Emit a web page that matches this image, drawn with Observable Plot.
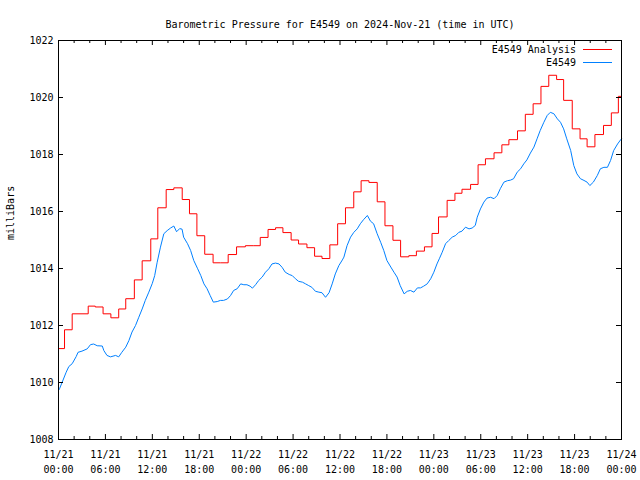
<!DOCTYPE html>
<html><head><meta charset="utf-8">
<script src="https://cdn.jsdelivr.net/npm/d3@7"></script>
<script src="https://cdn.jsdelivr.net/npm/@observablehq/plot@0.6"></script>
<style>body{margin:0;background:#fff}</style>
</head><body><div id="chart"></div>
<script>
const titleText = "Barometric Pressure for E4549 on 2024-Nov-21 (time in UTC)";
const yAxisLabel = "milliBars";
const seriesNames = ["E4549 Analysis", "E4549"];
const seriesColors = ["#ff0000", "#0080ff"];
const startUTC = Date.UTC(2024, 10, 21);

// Analysis (hourly step values); hours since 11/21 00:00 when each level starts
const analysisHours = [0, 0.77, 1.75, 2.75, 3.8, 4.7, 5.7, 6.7, 7.7, 8.6,
  9.7, 10.7, 11.8, 12.7, 13.77, 14.75, 15.82, 16.75, 17.7, 18.7,
  19.77, 20.7, 21.7, 22.77, 23.9, 24.9, 25.8, 26.8, 27.76, 28.7,
  29.75, 30.7, 31.77, 32.75, 33.7, 34.7, 35.7, 36.7, 37.76, 38.7,
  39.7, 40.76, 41.75, 42.77, 43.75, 44.8, 45.77, 46.8, 47.77, 48.6,
  49.7, 50.7, 51.6, 52.7, 53.66, 54.6, 55.7, 56.7, 57.6, 58.7,
  59.7, 60.7, 61.7, 62.7, 63.7, 64.6, 65.7, 66.7, 67.6, 68.6,
  69.7, 70.7, 71.6, 72];
const analysisValues = [1011.19, 1011.85, 1012.41, 1012.41, 1012.68, 1012.65, 1012.41, 1012.27, 1012.58, 1012.94,
  1013.6, 1014.27, 1015.04, 1016.13, 1016.77, 1016.83, 1016.42, 1015.92, 1015.15, 1014.5,
  1014.2, 1014.2, 1014.49, 1014.76, 1014.8, 1014.8, 1015.09, 1015.37, 1015.43, 1015.26,
  1015.0, 1014.86, 1014.73, 1014.43, 1014.35, 1014.83, 1015.57, 1016.13, 1016.69, 1017.08,
  1017.02, 1016.34, 1015.5, 1014.99, 1014.41, 1014.45, 1014.61, 1014.76, 1015.23, 1015.81,
  1016.39, 1016.64, 1016.78, 1016.95, 1017.64, 1017.85, 1018.06, 1018.34, 1018.52, 1018.83,
  1019.41, 1019.78, 1020.39, 1020.78, 1020.63, 1019.9, 1018.9, 1018.55, 1018.27, 1018.7,
  1019.02, 1019.46, 1020.04, 1020.04];

// Station readings: [hours since 11/21 00:00, mb]
const stationReadings = [
  [0.0, 1009.72], [0.13, 1009.78], [0.47, 1010.01], [0.98, 1010.36], [1.32, 1010.56],
  [1.75, 1010.66], [2.26, 1010.91], [2.5, 1011.06], [3.0, 1011.1], [3.67, 1011.18],
  [4.1, 1011.33], [4.5, 1011.35], [4.95, 1011.29], [5.6, 1011.28], [5.8, 1011.12],
  [6.2, 1010.95], [6.65, 1010.9], [7.3, 1010.95], [7.7, 1010.9], [8.1, 1011.06],
  [8.6, 1011.24], [9.0, 1011.47], [9.4, 1011.77], [9.85, 1012.0], [10.27, 1012.29],
  [10.7, 1012.58], [11.1, 1012.88], [11.55, 1013.17], [12.0, 1013.48], [12.3, 1013.75],
  [12.62, 1014.22], [13.04, 1014.75], [13.47, 1015.22], [13.9, 1015.33], [14.33, 1015.42],
  [14.75, 1015.49], [15.1, 1015.29], [15.5, 1015.4], [15.8, 1015.38], [16.0, 1015.1],
  [16.5, 1014.87], [16.9, 1014.63], [17.3, 1014.28], [17.8, 1013.99], [18.2, 1013.75],
  [18.6, 1013.46], [19.0, 1013.29], [19.4, 1013.05], [19.8, 1012.82], [20.3, 1012.84],
  [20.7, 1012.88], [21.1, 1012.88], [21.6, 1012.93], [22.0, 1013.05], [22.4, 1013.23],
  [22.85, 1013.29], [23.3, 1013.46], [23.7, 1013.43], [24.1, 1013.43], [24.5, 1013.38],
  [24.8, 1013.31], [25.2, 1013.43], [25.6, 1013.58], [26.05, 1013.7], [26.47, 1013.87],
  [26.9, 1013.99], [27.3, 1014.16], [27.75, 1014.19], [28.2, 1014.16], [28.6, 1014.04],
  [29.0, 1013.87], [29.5, 1013.79], [29.9, 1013.75], [30.3, 1013.64], [30.7, 1013.55],
  [31.2, 1013.52], [31.6, 1013.46], [32.0, 1013.4], [32.4, 1013.34], [32.86, 1013.2],
  [33.3, 1013.17], [33.7, 1013.15], [34.15, 1012.99], [34.6, 1013.15], [35.0, 1013.46],
  [35.4, 1013.81], [35.85, 1014.1], [36.3, 1014.3], [36.5, 1014.4], [36.9, 1014.8],
  [37.35, 1015.1], [37.77, 1015.27], [38.2, 1015.39], [38.6, 1015.57], [39.0, 1015.71],
  [39.5, 1015.86], [39.9, 1015.66], [40.3, 1015.57], [40.75, 1015.22], [41.2, 1014.92],
  [41.6, 1014.63], [42.0, 1014.28], [42.5, 1014.05], [42.9, 1013.87], [43.3, 1013.7],
  [43.7, 1013.4], [44.2, 1013.11], [44.6, 1013.2], [45.0, 1013.23], [45.45, 1013.17],
  [45.9, 1013.32], [46.3, 1013.32], [46.7, 1013.38], [47.15, 1013.46], [47.6, 1013.64],
  [48.0, 1013.87], [48.4, 1014.16], [48.7, 1014.34], [49.07, 1014.57], [49.5, 1014.87],
  [49.9, 1014.98], [50.35, 1015.1], [50.8, 1015.16], [51.2, 1015.27], [51.6, 1015.31],
  [52.05, 1015.45], [52.5, 1015.39], [52.9, 1015.42], [53.3, 1015.51], [53.55, 1015.8],
  [53.96, 1016.09], [54.4, 1016.33], [54.8, 1016.47], [55.25, 1016.5], [55.7, 1016.45],
  [56.1, 1016.56], [56.5, 1016.8], [56.96, 1017.03], [57.4, 1017.08], [57.8, 1017.1],
  [58.2, 1017.15], [58.66, 1017.38], [59.1, 1017.5], [59.5, 1017.67], [59.9, 1017.81],
  [60.35, 1018.05], [60.8, 1018.26], [61.2, 1018.55], [61.6, 1018.84], [62.07, 1019.13],
  [62.5, 1019.37], [62.9, 1019.48], [63.35, 1019.43], [63.8, 1019.25], [64.2, 1019.13],
  [64.6, 1018.9], [65.0, 1018.55], [65.5, 1018.14], [65.9, 1017.61], [66.3, 1017.32],
  [66.75, 1017.15], [67.2, 1017.09], [67.6, 1017.03], [67.95, 1016.91], [68.4, 1017.03],
  [68.9, 1017.26], [69.3, 1017.5], [69.75, 1017.55], [70.2, 1017.55], [70.6, 1017.79],
  [71.0, 1018.14], [71.5, 1018.37], [71.9, 1018.52], [72.0, 1018.55]
];

const yTickValues = [1008, 1010, 1012, 1014, 1016, 1018, 1020, 1022];
const xMajorHours = [0, 6, 12, 18, 24, 30, 36, 42, 48, 54, 60, 66, 72];
const xMinorHours = [2, 4, 8, 10, 14, 16, 20, 22, 26, 28, 32, 34, 38, 40, 44, 46, 50, 52, 56, 58, 62, 64, 68, 70];

const toDate = h => new Date(startUTC + h * 3600e3);
const analysis = analysisHours.map((h, i) => ({t: toDate(h), v: analysisValues[i]}));
const station = stationReadings.map(([h, v]) => ({t: toDate(h), v}));
const xMajor = xMajorHours.map(toDate);
const xMinor = xMinorHours.map(toDate);

const W = 640, H = 480, mL = 58, mR = 19, mT = 40, mB = 41;
const frameW = W - mL - mR, frameH = H - mT - mB;
const FONT = "'DejaVu Sans Mono', monospace";

function legend(index, scales, values, dims) {
  const right = dims.width - dims.marginRight;
  const g = d3.create("svg:g").attr("font-family", FONT).attr("font-size", 10);
  seriesNames.forEach((name, i) => {
    const y = dims.marginTop + 9.5 + i * 13;
    g.append("text").attr("x", right - 45).attr("y", y).attr("dy", "0.35em")
      .attr("text-anchor", "end").attr("fill", "black").text(name);
    g.append("line").attr("x1", right - 38).attr("x2", right - 9)
      .attr("y1", y).attr("y2", y).attr("stroke", seriesColors[i]).attr("stroke-width", 1);
  });
  return g.node();
}

const chart = Plot.plot({
  width: W, height: H,
  marginLeft: mL, marginRight: mR, marginTop: mT, marginBottom: mB,
  style: {fontFamily: FONT, fontSize: "10px", background: "white", color: "black"},
  x: {type: "utc", domain: [toDate(0), toDate(72)], label: null},
  y: {domain: [1008, 1022], label: null},
  marks: [
    Plot.line(analysis, {x: "t", y: "v", curve: "step-after", stroke: seriesColors[0], strokeWidth: 1}),
    Plot.line(station, {x: "t", y: "v", stroke: seriesColors[1], strokeWidth: 1}),
    Plot.frame({stroke: "black", strokeWidth: 1}),
    Plot.tickX(xMajor, {x: d => d, insetTop: frameH - 5, stroke: "black"}),
    Plot.tickX(xMajor, {x: d => d, insetBottom: frameH - 5, stroke: "black"}),
    Plot.tickX(xMinor, {x: d => d, insetTop: frameH - 3, stroke: "black"}),
    Plot.tickX(xMinor, {x: d => d, insetBottom: frameH - 3, stroke: "black"}),
    Plot.tickY(yTickValues, {y: d => d, insetRight: frameW - 5, stroke: "black"}),
    Plot.tickY(yTickValues, {y: d => d, insetLeft: frameW - 5, stroke: "black"}),
    Plot.axisX({ticks: xMajor, tickSize: 0, tickPadding: 8, tickFormat: d3.utcFormat("%m/%d\n%H:%M"), lineHeight: 1.5, label: null}),
    Plot.axisY({ticks: yTickValues, tickSize: 0, tickPadding: 5, tickFormat: d => String(d), label: null}),
    Plot.text([titleText], {frameAnchor: "top", dy: -20, fill: "black"}),
    Plot.text([yAxisLabel], {frameAnchor: "left", dx: -48, rotate: -90, fill: "black"}),
    legend
  ]
});
document.getElementById("chart").appendChild(chart);
</script>
</body></html>
